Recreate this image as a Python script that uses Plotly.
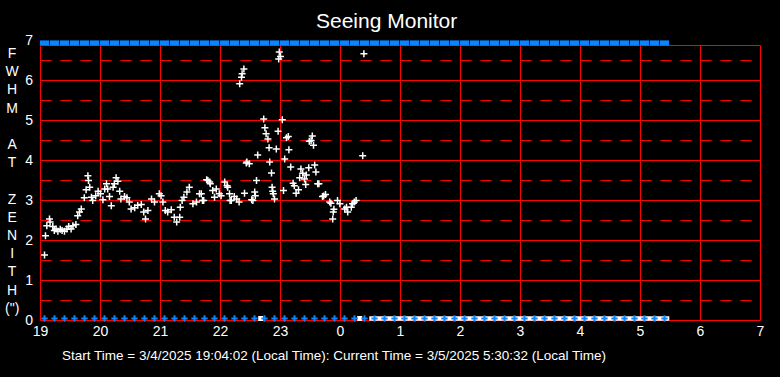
import plotly.graph_objects as go

# ---------------- data ----------------
x_tick_vals = [19, 20, 21, 22, 23, 24, 25, 26, 27, 28, 29, 30, 31]
x_tick_text = ["19", "20", "21", "22", "23", "0", "1", "2", "3", "4", "5", "6", "7"]
y_tick_vals = [0, 1, 2, 3, 4, 5, 6, 7]
y_tick_text = ["0", "1", "2", "3", "4", "5", "6", "7"]

# FWHM measurements (local time in hours, midnight continues as 24+)
fwhm_hours = [
    19.067, 19.083, 19.105, 19.15, 19.16, 19.205, 19.23, 19.26, 19.29, 19.33,
    19.36, 19.40, 19.44, 19.47, 19.51, 19.54, 19.59, 19.62, 19.65, 19.68,
    19.73, 19.76, 19.79, 19.80, 19.82, 19.85, 19.87, 19.92, 19.96, 20.00,
    20.04, 20.07, 20.10, 20.12, 20.15, 20.18, 20.21, 20.23, 20.26, 20.29,
    20.32, 20.34, 20.40, 20.44, 20.48, 20.51, 20.57, 20.62, 20.68, 20.72,
    20.75, 20.79, 20.85, 20.90, 20.98, 21.01, 21.04, 21.08, 21.12, 21.18,
    21.23, 21.27, 21.32, 21.33, 21.36, 21.39, 21.44, 21.48, 21.54, 21.60,
    21.65, 21.68, 21.70, 21.72, 21.77, 21.79, 21.82, 21.83, 21.87, 21.90,
    21.93, 21.98, 22.01, 22.07, 22.11, 22.12, 22.15, 22.16, 22.18, 22.23,
    22.27, 22.31, 22.32, 22.35, 22.36, 22.39, 22.40, 22.43, 22.44, 22.48,
    22.52, 22.54, 22.57, 22.58, 22.60, 22.62, 22.72, 22.74, 22.76, 22.79,
    22.81, 22.82, 22.85, 22.86, 22.87, 22.88, 22.90, 22.93, 22.96, 22.97,
    22.98, 23.00, 23.03, 23.05, 23.07, 23.10, 23.13, 23.14, 23.17, 23.21,
    23.23, 23.26, 23.30, 23.32, 23.34, 23.37, 23.40, 23.42, 23.43, 23.47,
    23.48, 23.51, 23.53, 23.55, 23.57, 23.59, 23.62, 23.64, 23.70, 23.72,
    23.75, 23.82, 23.84, 23.87, 23.88, 23.89, 23.95, 23.99, 24.07, 24.10,
    24.12, 24.18, 24.20, 24.23, 24.26, 24.37, 24.39,
]
fwhm_values = [
    1.64, 2.12, 2.37, 2.54, 2.46, 2.35, 2.25, 2.29, 2.23, 2.28,
    2.25, 2.23, 2.29, 2.35, 2.29, 2.37, 2.40, 2.62, 2.71, 2.79,
    3.07, 3.27, 3.62, 3.50, 3.33, 3.08, 3.00, 3.12, 3.23, 3.17,
    3.02, 3.29, 3.42, 3.29, 3.10, 2.87, 3.33, 3.42, 3.57, 3.48,
    3.23, 3.04, 3.10, 3.07, 2.96, 2.79, 2.82, 2.88, 2.90, 2.71,
    2.54, 2.75, 3.04, 2.96, 3.17, 3.12, 2.96, 2.75, 2.71, 2.77,
    2.58, 2.46, 2.58, 2.83, 3.00, 3.08, 3.21, 3.33, 2.92, 2.96,
    3.17, 3.17, 3.00, 3.00, 3.52, 3.50, 3.46, 3.42, 3.25, 3.08,
    3.29, 3.17, 3.12, 3.46, 3.37, 3.33, 3.17, 3.00, 3.00, 3.10,
    3.04, 2.96, 5.92, 6.08, 6.17, 6.29, 3.18, 3.94, 3.96, 3.92,
    3.02, 3.00, 3.21, 3.12, 3.50, 4.14, 5.04, 4.82, 4.67, 4.54,
    4.32, 3.96, 3.69, 3.33, 3.23, 3.17, 3.04, 4.29, 4.73, 6.54,
    6.71, 6.60, 5.02, 3.25, 4.04, 4.57, 4.60, 4.27, 3.84, 3.43,
    3.37, 3.18, 3.27, 3.57, 3.79, 3.68, 3.54, 3.40, 3.64, 3.82,
    4.48, 4.50, 4.61, 4.38, 3.89, 3.71, 3.42, 3.42, 3.10, 3.11,
    3.15, 2.96, 2.93, 2.54, 2.71, 2.78, 3.00, 2.92, 2.79, 2.83,
    2.71, 2.83, 2.92, 2.96, 3.00, 4.12, 6.67,
]

# status samples every ten minutes (clock times)
sample_clock = [
    "19:04", "19:14", "19:24", "19:34", "19:44", "19:54",
    "20:04", "20:14", "20:24", "20:34", "20:44", "20:54",
    "21:04", "21:14", "21:24", "21:34", "21:44", "21:54",
    "22:04", "22:14", "22:24", "22:34", "22:44", "22:54",
    "23:04", "23:14", "23:24", "23:34", "23:44", "23:54",
    "00:04", "00:14", "00:24", "00:34", "00:44", "00:54",
    "01:04", "01:14", "01:24", "01:34", "01:44", "01:54",
    "02:04", "02:14", "02:24", "02:34", "02:44", "02:54",
    "03:04", "03:14", "03:24", "03:34", "03:44", "03:54",
    "04:04", "04:14", "04:24", "04:34", "04:44", "04:54",
    "05:04", "05:14", "05:24",
]
top_flag_value = 6.94
bottom_flag_value = 0.05
zero_reading_hours = [22.67, 24.32]
zero_band_hours = [24.48, 29.48]

title_text = "Seeing Monitor"
y_title_lines = ["F", "W", "H", "M", "\u00a0", "A", "T", "\u00a0",
                 "Z", "E", "N", "I", "T", "H", "(\")"]
footer_text = ("Start Time = 3/4/2025 19:04:02 (Local Time): "
               "Current Time = 3/5/2025 5:30:32 (Local Time)")


def clock_to_hours(s):
    h, m = s.split(":")
    h, m = int(h), int(m)
    return h + m / 60.0 + (24 if h < 12 else 0)


sample_hours = [clock_to_hours(s) for s in sample_clock]

FONT = "Liberation Sans, Arial, sans-serif"
RED = "#ff0000"
BLUE = "#0a84ff"
X0, X1 = x_tick_vals[0], x_tick_vals[-1]
Y_TOP = 6.875

# geometry: 60 px per hour, 40 px per FWHM unit, half-pixel aligned grid
ML, MR, MT, MB = 40, 19, 35, 56
PX_H, PX_V = 60.0, 40.0
plot_w = 780 - ML - MR
plot_h = 377 - MT - MB
xr0 = X0 - 0.5 / PX_H
xr1 = xr0 + plot_w / PX_H
yr0 = -0.5 / PX_V
yr1 = yr0 + plot_h / PX_V


def px_to_paper_x(px):
    return (px - ML) / plot_w


def px_to_paper_y(py):
    return (377 - MB - py) / plot_h


fig = go.Figure()

# ---------------- grid shapes ----------------
shapes = []
for v in x_tick_vals:
    shapes.append(dict(type="line", xref="x", yref="y", x0=v, x1=v, y0=0, y1=Y_TOP,
                       line=dict(color=RED, width=1), layer="below"))
for v in y_tick_vals[:-1]:
    shapes.append(dict(type="line", xref="x", yref="y", x0=X0, x1=X1, y0=v, y1=v,
                       line=dict(color=RED, width=1), layer="below"))
    shapes.append(dict(type="line", xref="x", yref="y", x0=X0, x1=X1, y0=v + 0.5, y1=v + 0.5,
                       line=dict(color=RED, width=1, dash="11px,9px"), layer="below"))
shapes.append(dict(type="line", xref="x", yref="y", x0=X0, x1=X1, y0=Y_TOP, y1=Y_TOP,
                   line=dict(color=RED, width=1), layer="below"))

# ---------------- traces ----------------
fig.add_trace(go.Scatter(
    x=fwhm_hours, y=fwhm_values, mode="markers",
    marker=dict(symbol="cross-thin", size=5, line=dict(color="white", width=1.5)),
    hoverinfo="skip", showlegend=False, cliponaxis=False))

fig.add_trace(go.Scatter(
    x=zero_band_hours, y=[bottom_flag_value] * len(zero_band_hours), mode="lines",
    line=dict(color="white", width=4.5), hoverinfo="skip", showlegend=False,
    cliponaxis=False))

fig.add_trace(go.Scatter(
    x=zero_reading_hours, y=[bottom_flag_value] * len(zero_reading_hours), mode="markers",
    marker=dict(symbol="square", size=5, color="white"),
    hoverinfo="skip", showlegend=False, cliponaxis=False))

fig.add_trace(go.Scatter(
    x=sample_hours, y=[bottom_flag_value] * len(sample_hours), mode="markers",
    marker=dict(symbol="cross-thin", size=4.5, line=dict(color=BLUE, width=2)),
    hoverinfo="skip", showlegend=False, cliponaxis=False))

fig.add_trace(go.Scatter(
    x=sample_hours, y=[top_flag_value] * len(sample_hours), mode="markers",
    marker=dict(symbol="line-ew", size=6.6, line=dict(color=BLUE, width=5)),
    hoverinfo="skip", showlegend=False, cliponaxis=False))

# ---------------- annotations ----------------
annotations = [
    dict(text=title_text, xref="paper", yref="paper",
         x=px_to_paper_x(386.5), y=px_to_paper_y(20.5),
         xanchor="center", yanchor="middle", showarrow=False,
         font=dict(family=FONT, size=21, color="white")),
    dict(text="<br>".join(y_title_lines), xref="paper", yref="paper",
         x=px_to_paper_x(12), y=px_to_paper_y(180),
         xanchor="center", yanchor="middle", showarrow=False, align="center",
         font=dict(family=FONT, size=14, color="white")),
    dict(text=footer_text, xref="paper", yref="paper",
         x=px_to_paper_x(334), y=px_to_paper_y(355),
         xanchor="center", yanchor="middle", showarrow=False,
         font=dict(family=FONT, size=13.5, color="white")),
]

fig.update_layout(
    width=780, height=377, autosize=False,
    margin=dict(l=ML, r=MR, t=MT, b=MB, pad=0),
    paper_bgcolor="black", plot_bgcolor="black",
    shapes=shapes, annotations=annotations,
    xaxis=dict(range=[xr0, xr1], tickvals=x_tick_vals, ticktext=x_tick_text,
               showgrid=False, zeroline=False, showline=False, ticks="",
               tickfont=dict(family=FONT, size=14, color="white"), fixedrange=True),
    yaxis=dict(range=[yr0, yr1], tickvals=y_tick_vals, ticktext=y_tick_text,
               showgrid=False, zeroline=False, showline=False, ticks="",
               ticklabelstandoff=6,
               tickfont=dict(family=FONT, size=14, color="white"), fixedrange=True),
    showlegend=False,
)

fig.write_html("out.html", include_plotlyjs=True, config={"displayModeBar": False},
               post_script="document.body.style.margin='0px';document.body.style.overflow='hidden';")
